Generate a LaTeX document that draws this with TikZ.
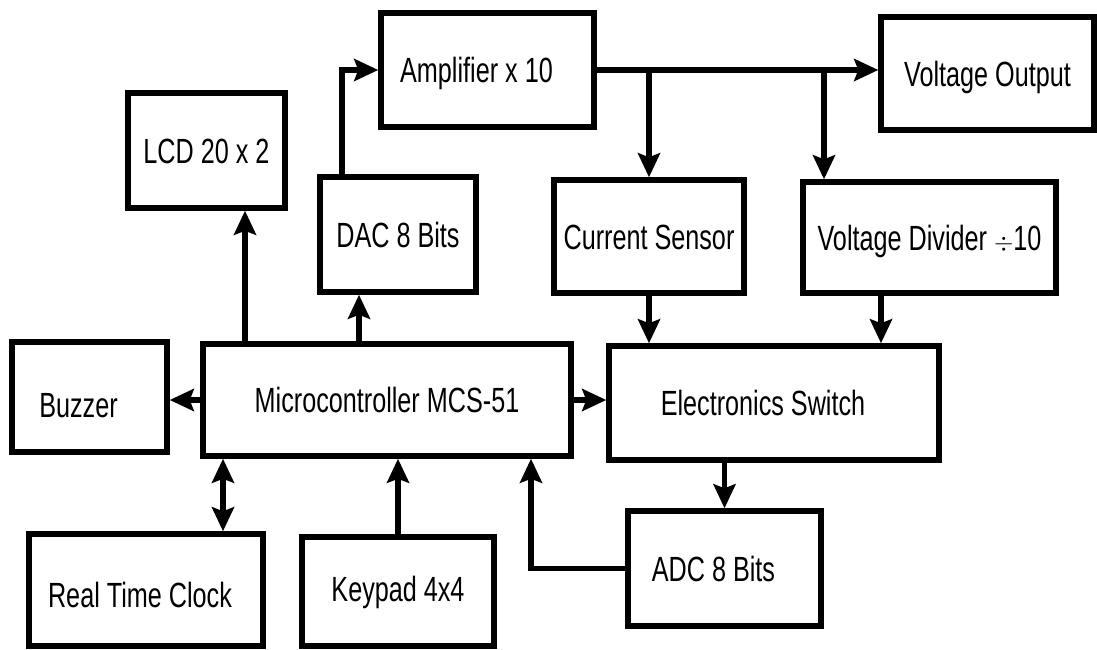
\documentclass[tikz,border=0pt]{standalone}
\usepackage{fontspec}
\setmainfont{Liberation Sans}[FakeStretch=0.72]
\usetikzlibrary{arrows.meta}
\begin{document}
\begin{tikzpicture}[x=1pt,y=-1pt,
  blk/.style={draw=black, line width=5.5pt, fill=white, inner sep=0pt,
    font=\fontsize{35}{40}\selectfont, text height=25pt, text depth=0pt},
  tip/.style={},
  arr/.style={line width=5.5pt, -{Stealth[length=24pt,width=22pt,inset=4pt]}},
  darr/.style={line width=5.5pt, {Stealth[length=24pt,width=22pt,inset=4pt]}-{Stealth[length=24pt,width=22pt,inset=4pt]}}]
\useasboundingbox (0,0) rectangle (1097,649);
% blocks
\node[blk, minimum width=157pt, minimum height=115pt] (LCD)  at (206.5,150.5) {LCD 20 x 2};
\node[blk, minimum width=213pt, minimum height=114pt] (Amp)  at (487.5,70) {\hspace*{-22pt}Amplifier x 10};
\node[blk, minimum width=213pt, minimum height=113pt] (VOut) at (987.5,73.5) {Voltage Output};
\node[blk, minimum width=156pt, minimum height=115pt] (DAC)  at (398,234.5) {DAC 8 Bits};
\node[blk, minimum width=190pt, minimum height=113pt] (CS)   at (649,236.5) {Current Sensor};
\node[blk, minimum width=253pt, minimum height=111pt] (VD)   at (929.5,237.5) {Voltage Divider {\fontsize{30}{30}\selectfont$\div$}10};
\node[blk, minimum width=155pt, minimum height=110pt] (Buz)  at (89.5,397) {\hspace*{-22pt}\raisebox{-8pt}{Buzzer}};
\node[blk, minimum width=368pt, minimum height=112pt] (MCU)  at (387,400) {Microcontroller MCS-51};
\node[blk, minimum width=330pt, minimum height=114pt] (ES)   at (774,403) {\hspace*{-22pt}Electronics Switch};
\node[blk, minimum width=234pt, minimum height=112pt] (RTC)  at (146,590) {\hspace*{-12pt}\raisebox{-5pt}{Real Time Clock}};
\node[blk, minimum width=192pt, minimum height=109pt] (Key)  at (398,591.5) {\raisebox{3pt}{Keypad 4x4}};
\node[blk, minimum width=193pt, minimum height=115pt] (ADC)  at (724.5,568.5) {\hspace*{-22pt}ADC 8 Bits};
% helper x positions
\coordinate (xLCD) at (245,0);
\coordinate (xDACin) at (359,0);
\coordinate (xDACout) at (342,0);
\coordinate (xVD) at (824,0);
\coordinate (xVDout) at (881,0);
\coordinate (xRTC) at (223,0);
\coordinate (xADC) at (531,0);
% connectors
\draw[arr] (MCU.north -| xLCD) -- (LCD.south -| xLCD);
\draw[arr] (MCU.north -| xDACin) -- (DAC.south -| xDACin);
\draw[arr] (DAC.north -| xDACout) |- (Amp.west);
\draw[arr] (Amp.east) -- (Amp.east -| VOut.west);
\draw[arr] (CS.north |- Amp.east) -- (CS.north);
\draw[arr] (xVD |- Amp.east) -- (VD.north -| xVD);
\draw[arr] (CS.south) -- (CS.south |- ES.north);
\draw[arr] (VD.south -| xVDout) -- (ES.north -| xVDout);
\draw[arr] (MCU.west) -- (MCU.west -| Buz.east);
\draw[arr] (MCU.east) -- (MCU.east -| ES.west);
\draw[darr] (MCU.south -| xRTC) -- (RTC.north -| xRTC);
\draw[arr] (Key.north) -- (Key.north |- MCU.south);
\draw[arr] (ES.south -| ADC.north) -- (ADC.north);
\draw[arr] (ADC.west) -| (xADC |- MCU.south);
\end{tikzpicture}
\end{document}
